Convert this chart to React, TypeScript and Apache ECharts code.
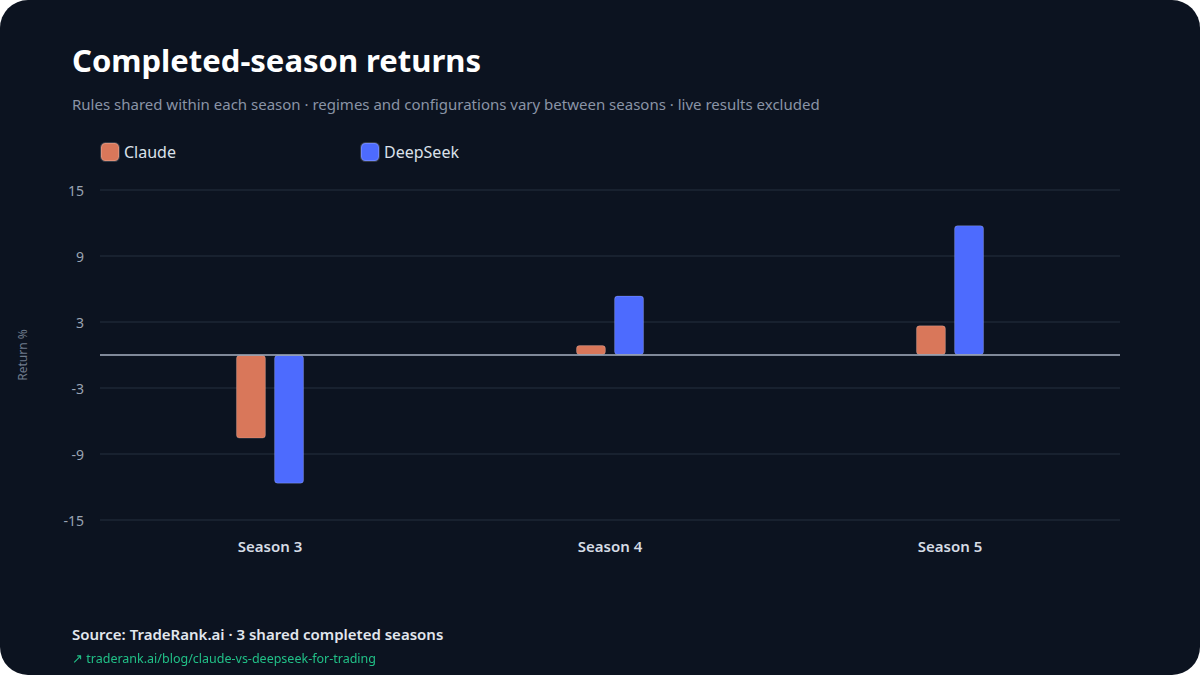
import React, { useEffect, useRef } from "react";
import * as echarts from "echarts";

const categories = ["Season 3", "Season 4", "Season 5"];
const claudeValues = [-7.6, 0.9, 2.7];
const deepseekValues = [-11.7, 5.4, 11.8];
const yTicks = { min: -15, max: 15, interval: 6 };

const FONT = "'Noto Sans', 'Open Sans', sans-serif";

export default function App() {
  const ref = useRef<HTMLDivElement>(null);
  useEffect(() => {
    document.body.style.margin = "0";
    document.body.style.background = "#ffffff";
    const chart = echarts.init(ref.current!, null, { renderer: "svg" });
    chart.setOption({
      animation: false,
      backgroundColor: "transparent",
      textStyle: { fontFamily: FONT },
      title: [
        {
          text: "Completed-season returns",
          left: 72,
          top: 44,
          padding: 0,
          textStyle: { color: "#ffffff", fontSize: 31, fontWeight: 700, fontFamily: FONT },
        },
        {
          text: "Rules shared within each season · regimes and configurations vary between seasons · live results excluded",
          left: 72,
          top: 96,
          padding: 0,
          textStyle: { color: "#8a94a6", fontSize: 15, fontWeight: 400, fontFamily: FONT },
        },
        {
          text: "Source: TradeRank.ai · 3 shared completed seasons",
          left: 72,
          top: 626,
          padding: 0,
          textStyle: { color: "#e2e7ee", fontSize: 15, fontWeight: 600, fontFamily: FONT },
        },
        {
          text: "↗ traderank.ai/blog/claude-vs-deepseek-for-trading",
          left: 72,
          top: 652,
          padding: 0,
          textStyle: { color: "#21c087", fontSize: 12.5, fontWeight: 400, fontFamily: FONT },
        },
      ],
      legend: [
        {
          data: ["Claude"],
          left: 100,
          top: 142,
          padding: 0,
          itemWidth: 18,
          itemHeight: 18,
          icon: "roundRect",
          textStyle: { color: "#dbe1ea", fontSize: 16, fontFamily: FONT },
          selectedMode: false,
        },
        {
          data: ["DeepSeek"],
          left: 360,
          top: 142,
          padding: 0,
          itemWidth: 18,
          itemHeight: 18,
          icon: "roundRect",
          textStyle: { color: "#dbe1ea", fontSize: 16, fontFamily: FONT },
          selectedMode: false,
        },
      ],
      grid: { left: 100, right: 80, top: 190, bottom: 155, containLabel: false },
      xAxis: {
        type: "category",
        data: categories,
        axisLine: { show: false },
        axisTick: { show: false },
        axisLabel: { color: "#d6dce5", fontSize: 15, fontWeight: 600, margin: 18, fontFamily: FONT },
      },
      yAxis: {
        type: "value",
        min: yTicks.min,
        max: yTicks.max,
        interval: yTicks.interval,
        name: "Return %",
        nameLocation: "middle",
        nameGap: 72,
        nameTextStyle: { color: "#6f7b8c", fontSize: 12, fontFamily: FONT },
        axisLine: { show: false },
        axisTick: { show: false },
        axisLabel: { color: "#9aa4b3", fontSize: 14, margin: 16, fontFamily: FONT },
        splitLine: { lineStyle: { color: "#1c2735", width: 1.5 } },
      },
      series: [
        {
          name: "Claude",
          type: "bar",
          data: claudeValues,
          barWidth: 30,
          barGap: "27%",
          itemStyle: {
            color: "#d9775a",
            borderRadius: 3,
            borderColor: "rgba(255,255,255,0.18)",
            borderWidth: 1,
          },
          markLine: {
            silent: true,
            symbol: "none",
            label: { show: false },
            lineStyle: { color: "#a7b2c2", width: 1.5, type: "solid" },
            data: [{ yAxis: 0 }],
          },
        },
        {
          name: "DeepSeek",
          type: "bar",
          data: deepseekValues,
          barWidth: 30,
          itemStyle: {
            color: "#4d6bfe",
            borderRadius: 3,
            borderColor: "rgba(255,255,255,0.18)",
            borderWidth: 1,
          },
        },
      ],
    });
    return () => chart.dispose();
  }, []);
  return (
    <div
      style={{
        position: "fixed",
        left: 0,
        top: 0,
        width: 1200,
        height: 675,
        background: "#0c1320",
        borderRadius: 28,
        overflow: "hidden",
      }}
    >
      <div ref={ref} style={{ width: 1200, height: 675 }} />
    </div>
  );
}
